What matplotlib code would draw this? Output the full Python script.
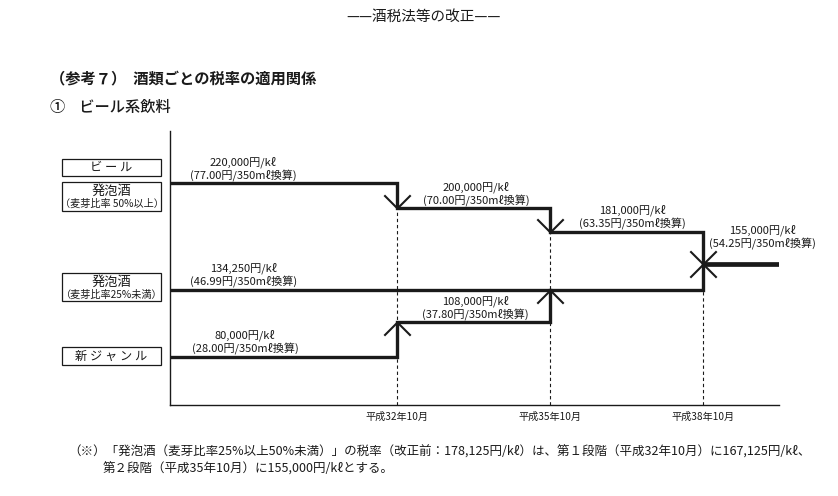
import matplotlib
matplotlib.use("Agg")
import matplotlib.pyplot as plt
from matplotlib.patches import Rectangle
from matplotlib.path import Path

plt.rcParams['font.family'] = ['Noto Sans CJK JP', 'DejaVu Sans']

# ---- data ----
period_labels = ["平成32年10月", "平成35年10月", "平成38年10月"]
period_x = [32.75, 35.75, 38.75]
x_start, x_end = 28.30, 40.24

beer_rates = [220000, 200000, 181000, 155000]
happo25_rates = [134250, 155000]
newgenre_rates = [80000, 108000, 134250]
final_rate = 155000

category_labels = ["ビ ー ル", "発泡酒", "発泡酒", "新 ジ ャ ン ル"]
category_sub = ["", "（麦芽比率 50%以上）", "（麦芽比率25%未満）", ""]

rate_labels = [
    ("220,000円/kℓ", "(77.00円/350mℓ換算)", 29.73, 220000),
    ("200,000円/kℓ", "(70.00円/350mℓ換算)", 34.30, 200000),
    ("181,000円/kℓ", "(63.35円/350mℓ換算)", 37.36, 181000),
    ("155,000円/kℓ", "(54.25円/350mℓ換算)", 39.91, 155000),
    ("134,250円/kℓ", "(46.99円/350mℓ換算)", 29.75, 134250),
    ("108,000円/kℓ", "(37.80円/350mℓ換算)", 34.28, 108000),
    ("80,000円/kℓ", "(28.00円/350mℓ換算)", 29.77, 80000),
]

W, H = 838, 496
fig = plt.figure(figsize=(W / 100, H / 100), dpi=100)
ax = fig.add_axes([170 / W, 1 - 405 / H, (779 - 170) / W, (405 - 131) / H])
ax.set_xlim(x_start, x_end)
ax.set_ylim(41270, 262360)

col = '#1a1a1a'
lw = 2.4

# dashed guide lines
dash_tops = [beer_rates[1], beer_rates[2], happo25_rates[0]]
for xp, top in zip(period_x, dash_tops):
    ax.plot([xp, xp], [41270, top], color=col, lw=0.8, ls=(0, (3, 2.5)), zorder=1)

# beer / happoshu >=50%
bx = [x_start] + period_x
ax.step(bx, beer_rates, where='post', color=col, lw=lw, solid_joinstyle='miter', zorder=3)
# happoshu <25%
ax.step([x_start, period_x[2]], happo25_rates, where='post', color=col, lw=lw,
        solid_joinstyle='miter', zorder=3)
# new genre
ax.step([x_start] + period_x[:2], newgenre_rates, where='post', color=col, lw=lw,
        solid_joinstyle='miter', zorder=3)
# unified final segment
ax.plot([period_x[2], x_end], [final_rate, final_rate], color=col, lw=3.4,
        solid_capstyle='butt', zorder=3)

# chevron markers
down_v = Path([(-1, 1), (0, 0), (1, 1)], [Path.MOVETO, Path.LINETO, Path.LINETO])
up_v = Path([(-1, -1), (0, 0), (1, -1)], [Path.MOVETO, Path.LINETO, Path.LINETO])
ms = 19
for xp, r in zip(period_x, beer_rates[1:]):
    ax.plot([xp], [r], marker=down_v, ms=ms, mfc='none', mec=col, mew=1.5, zorder=4)
for xp, r in zip(period_x, newgenre_rates[1:] + [final_rate]):
    ax.plot([xp], [r], marker=up_v, ms=ms, mfc='none', mec=col, mew=1.5, zorder=4)

# rate labels
for i, (l1, l2, xc, r) in enumerate(rate_labels):
    off = 11 if r == final_rate else 2
    ax.annotate(l1 + "\n" + l2, xy=(xc, r), xytext=(0, off), textcoords='offset points',
                ha='center', va='bottom', fontsize=8, linespacing=1.1, color=col)

for s in ['top', 'right']:
    ax.spines[s].set_visible(False)
ax.spines['left'].set_linewidth(1.0)
ax.spines['bottom'].set_linewidth(1.0)
ax.spines['left'].set_color(col)
ax.spines['bottom'].set_color(col)
ax.set_yticks([])
ax.set_xticks(period_x)
ax.set_xticklabels(period_labels, fontsize=7.3, color=col)
ax.tick_params(axis='x', length=0, pad=5)


def px(x, y):
    return x / W, 1 - y / H


# left category boxes (pixel layout)
boxes = [(159, 176), (182, 211), (273, 301), (347, 365)]
for (y0, y1), lab, sub in zip(boxes, category_labels, category_sub):
    x0, yb = px(62, y1)
    w = (161 - 62) / W
    h = (y1 - y0) / H
    fig.add_artist(Rectangle((x0, yb), w, h, transform=fig.transFigure, fill=False,
                             ec=col, lw=0.9))
    if sub:
        fig.text(*px(111.5, y0 + 9), lab, ha='center', va='center', fontsize=9.5, color=col)
        fig.text(*px(111.5, y0 + 21.5), sub, ha='center', va='center', fontsize=7.3, color=col)
    else:
        fig.text(*px(111.5, (y0 + y1) / 2), lab, ha='center', va='center', fontsize=8.8, color=col)

# headings
fig.text(*px(424, 17), "——酒税法等の改正——", ha='center', va='center', fontsize=10.5, color=col)
fig.text(*px(50, 78), "（参考７）  酒類ごとの税率の適用関係", ha='left', va='center',
         fontsize=11, fontweight='bold', color=col)
fig.text(*px(50, 107), "①    ビール系飲料", ha='left', va='center', fontsize=11,
         fontweight='medium', color=col)

# footnote
fig.text(*px(68, 452), "（※）「発泡酒（麦芽比率25%以上50%未満）」の税率（改正前：178,125円/kℓ）は、第１段階（平成32年10月）に167,125円/kℓ、",
         ha='left', va='center', fontsize=9, color=col)
fig.text(*px(103, 469), "第２段階（平成35年10月）に155,000円/kℓとする。",
         ha='left', va='center', fontsize=9, color=col)

fig.savefig("out.png", dpi=100)
